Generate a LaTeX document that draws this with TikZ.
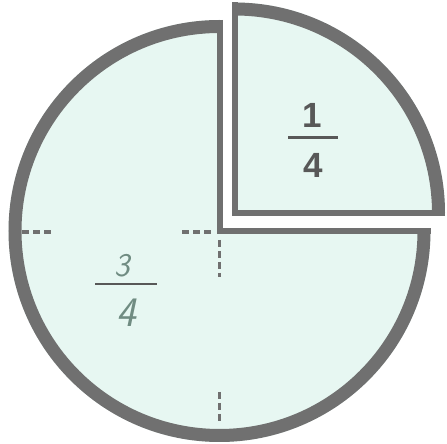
\documentclass[tikz,border=0pt]{standalone}
\usepackage{fontspec}
\setmainfont{Liberation Sans}
\usetikzlibrary{calc}
\definecolor{fillc}{RGB}{231,247,242}
\definecolor{edge}{RGB}{112,112,112}
\definecolor{pencil}{RGB}{112,140,130}
\definecolor{ink}{RGB}{88,88,88}
\begin{document}
\begin{tikzpicture}[x=1pt,y=1pt,line join=miter,
  rim/.style={draw=edge,line width=13pt},
  side/.style={draw=edge,line width=6pt},
  guide/.style={draw=edge,line width=3.5pt,dash pattern=on 7pt off 4pt},
  printed/.style={text=ink,inner sep=0pt,font=\bfseries\fontsize{35}{35}\selectfont},
  written/.style={text=pencil,inner sep=0pt,font=\sffamily\itshape\fontsize{33}{33}\selectfont},
  fracbar/.style={draw=ink,line width=3pt}]
\useasboundingbox (0,0) rectangle (447,444);
\coordinate (C) at (219.5,213);
\coordinate (Q) at (234.5,231);
% three-quarter sector
\fill[fillc] (C) -- ++(0,211) arc[start angle=90,end angle=360,radius=211] -- cycle;
\draw[rim] ($(C)+(0,204.5)$) arc[start angle=90,end angle=360,radius=204.5];
\draw[side] ($(C)+(0,211)$) -- (C) -- ($(C)+(211,0)$);
% quarter sector
\fill[fillc] (Q) -- ++(210.5,0) arc[start angle=0,end angle=90,radius=210.5] -- cycle;
\draw[rim] ($(Q)+(204,0)$) arc[start angle=0,end angle=90,radius=204];
\draw[side] ($(Q)+(210.5,0)$) -- (Q) -- ($(Q)+(0,210.5)$);
% dashed guide marks
\coordinate (g1a) at (22,212);  \coordinate (g1b) at (53,212);
\coordinate (g2a) at (182,212); \coordinate (g2b) at (212,212);
\coordinate (g3a) at (219.5,204); \coordinate (g3b) at (219.5,167);
\coordinate (g4a) at (219.5,52); \coordinate (g4b) at (219.5,20);
\draw[guide] (g1a) -- (g1b);
\draw[guide] (g2a) -- (g2b);
\draw[guide] (g3a) -- (g3b);
\draw[guide] (g4a) -- (g4b);
% 1/4 label
\node[printed] (n1) at (312,329) {1};
\node[printed] (d1) at (313,278.5) {4};
\coordinate (b1a) at (288,306); \coordinate (b1b) at (338,306);
\draw[fracbar] (b1a) -- (b1b);
% 3/4 label
\node[written] (n3) at (122,178) {3};
\node[written,font=\sffamily\itshape\fontsize{42}{42}\selectfont] (d3) at (126,131) {4};
\coordinate (b3a) at (95,160); \coordinate (b3b) at (157,160);
\draw[fracbar,line width=2.5pt] (b3a) -- (b3b);
\end{tikzpicture}
\end{document}
